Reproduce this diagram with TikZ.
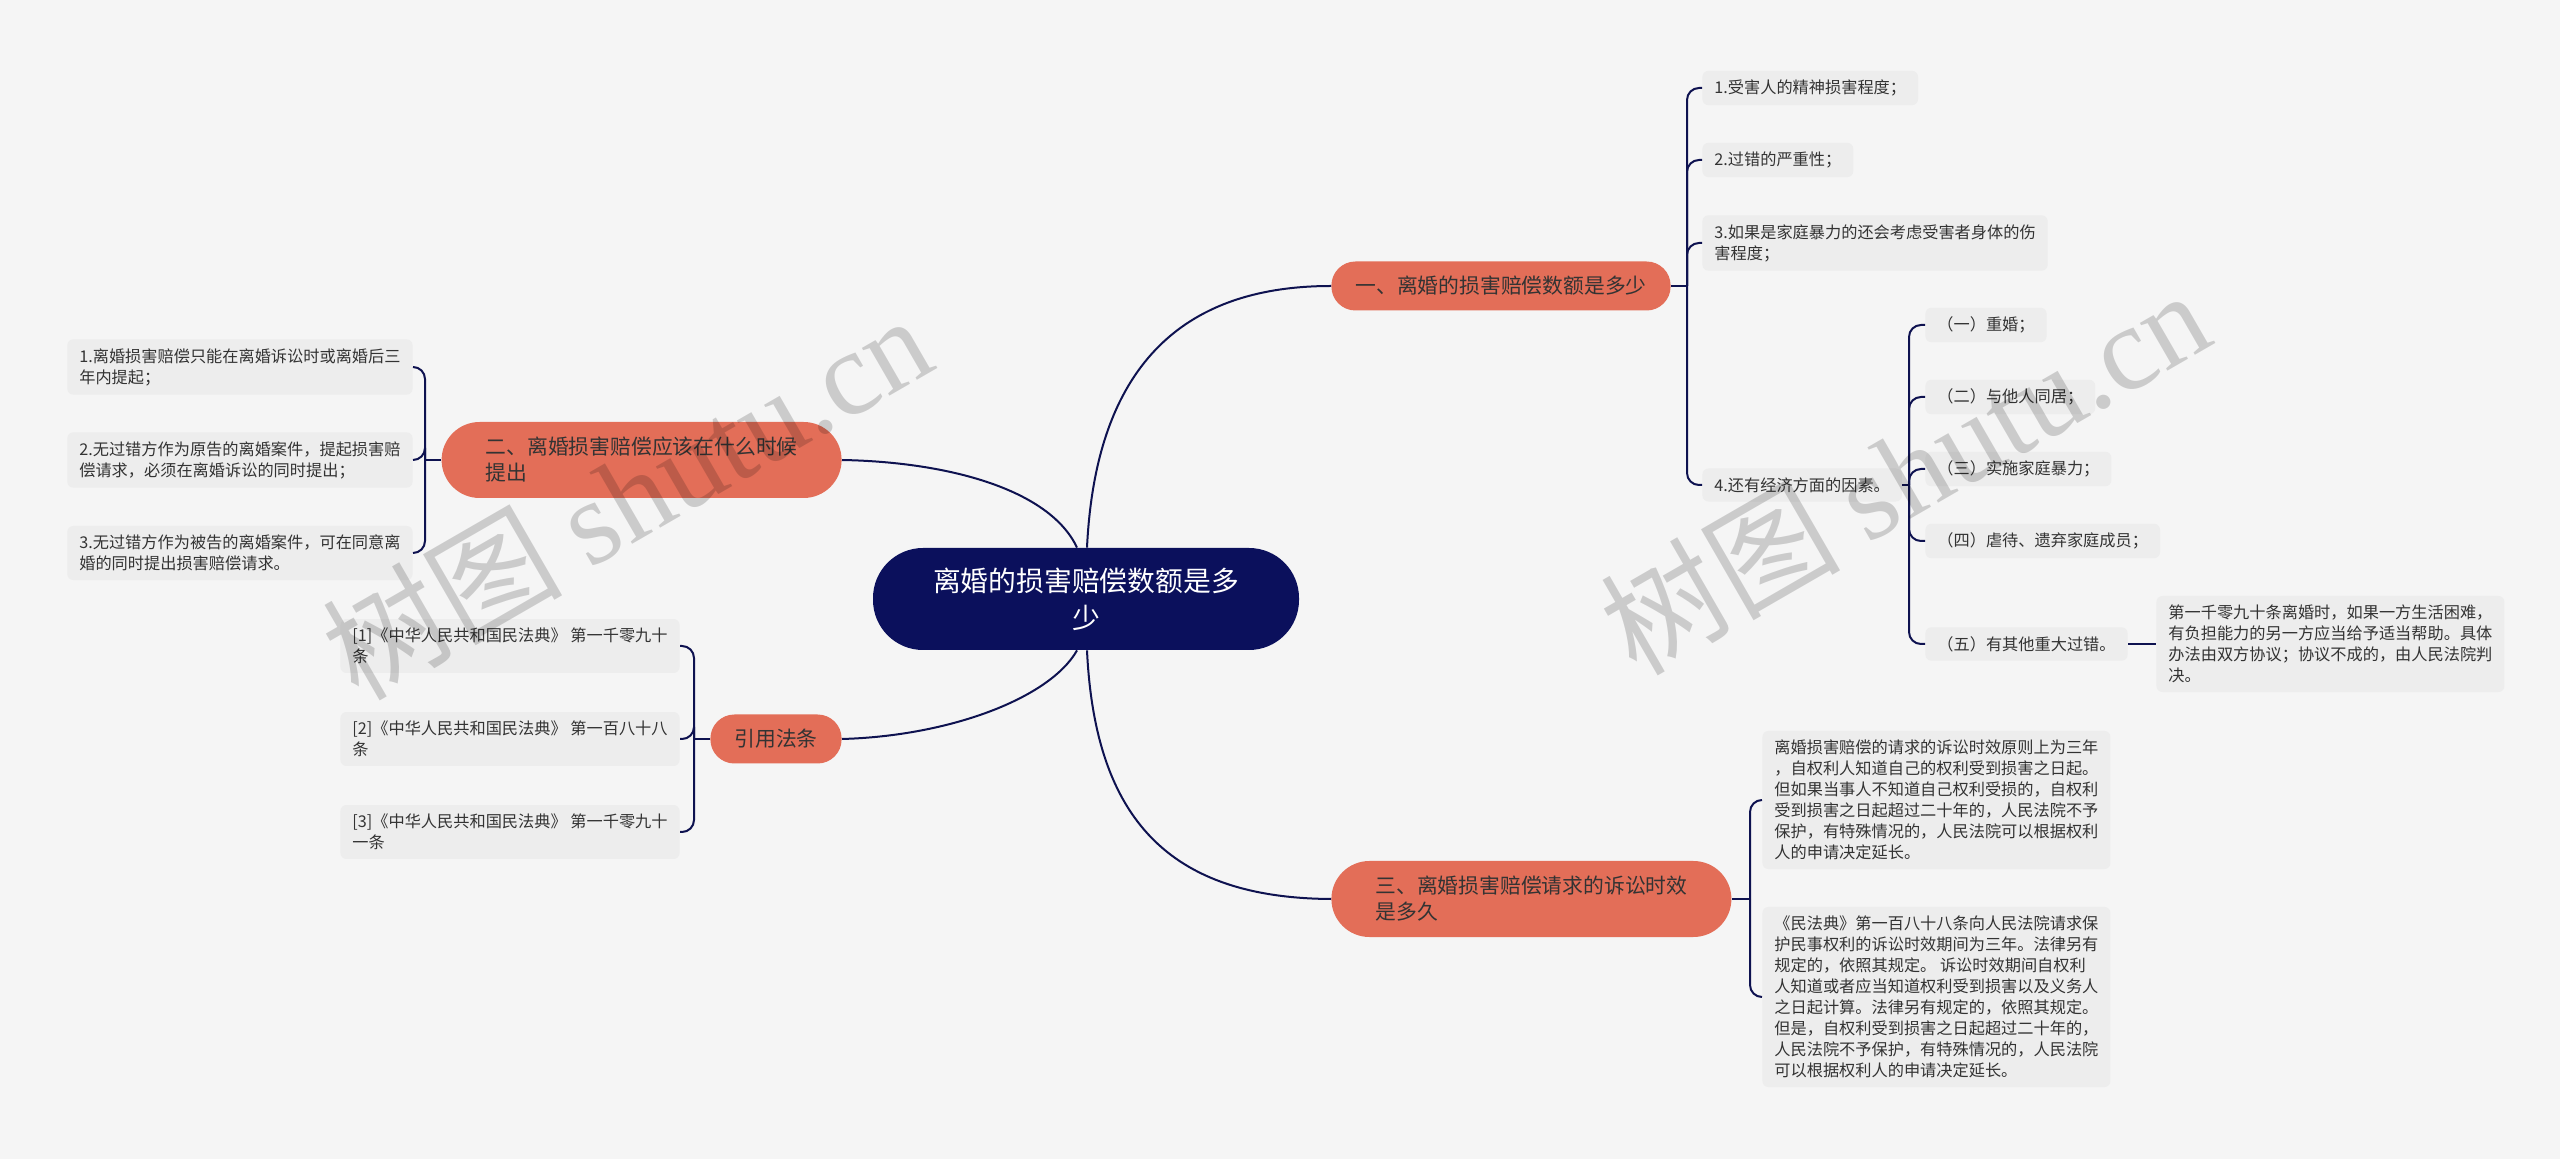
\documentclass[tikz,border=0pt]{standalone}
\usepackage{fontspec}
\setmainfont{Noto Sans CJK SC}
\newfontfamily\wmlatin{Liberation Serif}
\usetikzlibrary{positioning}
\definecolor{mmPaper}{HTML}{F5F5F5}
\definecolor{mmLeaf}{HTML}{EDEDED}
\definecolor{mmNavy}{HTML}{0B105C}
\definecolor{mmCoral}{HTML}{E36E58}
\definecolor{mmInk}{HTML}{333333}
\definecolor{mmLine}{HTML}{0E1250}
\tikzset{
  root/.style={fill=mmNavy, text=white, rounded corners=25pt, minimum width=213pt, minimum height=51pt, align=center, font=\fontsize{13.9}{18.5}\selectfont},
  topic/.style={fill=mmCoral, text=mmInk, rounded corners=12pt, minimum height=24.5pt, inner xsep=12pt, align=left, font=\fontsize{10.4}{13}\selectfont},
  topicW/.style={topic, rounded corners=19pt, minimum height=38pt, inner xsep=22pt},
  leaf/.style={fill=mmLeaf, text=mmInk, rounded corners=3pt, inner xsep=6pt, inner ysep=4.5pt, align=left, font=\fontsize{8.1}{10.5}\selectfont},
  link/.style={draw=mmLine, line width=1pt},
  elbow/.style={link, rounded corners=6pt},
  wm/.style={text=black, text opacity=0.17, rotate=30, anchor=base, font=\fontsize{60}{60}\selectfont},
}
\begin{document}
\begin{tikzpicture}[x=0.5pt, y=-0.5pt]
  \fill[mmPaper] (0,0) rectangle (2560,1159);
  \useasboundingbox (0,0) rectangle (2560,1159);

  % centre and main topics
  \node[root] (root) at (1086,599) {离婚的损害赔偿数额是多\\少};
  \node[topic, anchor=west] (t1) at (1331,286) {一、离婚的损害赔偿数额是多少};
  \node[topicW, anchor=east] (t2) at (842,460) {二、离婚损害赔偿应该在什么时候\\提出};
  \node[topic, anchor=east] (t3) at (842,739) {引用法条};
  \node[topicW, anchor=west] (t4) at (1331,899) {三、离婚损害赔偿请求的诉讼时效\\是多久};

  \draw[link] ([xshift=0.5pt]root.north) .. controls (1095,380) and (1170,286) .. (t1.west);
  \draw[link] ([xshift=-4.5pt]root.north) .. controls (1050,490) and (950,462) .. (t2.east);
  \draw[link] ([xshift=-4.5pt]root.south) .. controls (1050,698) and (950,736) .. (t3.east);
  \draw[link] ([xshift=0.5pt]root.south) .. controls (1095,820) and (1170,898) .. (t4.west);

  % topic 1
  \node[leaf, anchor=west] (t1a) at (1702,88) {1.受害人的精神损害程度；};
  \node[leaf, anchor=west] (t1b) at (1702,160) {2.过错的严重性；};
  \node[leaf, anchor=west] (t1c) at (1702,243) {3.如果是家庭暴力的还会考虑受害者身体的伤\\害程度；};
  \node[leaf, anchor=west] (t1d) at (1702,485) {4.还有经济方面的因素。};
  \coordinate (t1hub) at (1687,286);
  \draw[link] (t1.east) -- (t1hub);
  \foreach \n in {t1a,t1b,t1c,t1d} \draw[elbow] (t1hub) |- (\n.west);

  \node[leaf, anchor=west] (t1d1) at (1925,325) {（一）重婚；};
  \node[leaf, anchor=west] (t1d2) at (1925,397) {（二）与他人同居；};
  \node[leaf, anchor=west] (t1d3) at (1925,469) {（三）实施家庭暴力；};
  \node[leaf, anchor=west] (t1d4) at (1925,541) {（四）虐待、遗弃家庭成员；};
  \node[leaf, anchor=west] (t1d5) at (1925,644) {（五）有其他重大过错。};
  \node[leaf, right=14pt of t1d5] (t1d5a) {第一千零九十条离婚时，如果一方生活困难，\\有负担能力的另一方应当给予适当帮助。具体\\办法由双方协议；协议不成的，由人民法院判\\决。};
  \coordinate (t1dhub) at (1909,485);
  \draw[link] (t1d.east) -- (t1dhub);
  \foreach \n in {t1d1,t1d2,t1d3,t1d4,t1d5} \draw[elbow] (t1dhub) |- (\n.west);
  \draw[link] (t1d5) -- (t1d5a);

  % topic 2
  \node[leaf, anchor=east] (t2a) at (413,367) {1.离婚损害赔偿只能在离婚诉讼时或离婚后三\\年内提起；};
  \node[leaf, anchor=east] (t2b) at (413,460) {2.无过错方作为原告的离婚案件，提起损害赔\\偿请求，必须在离婚诉讼的同时提出；};
  \node[leaf, anchor=east] (t2c) at (413,553) {3.无过错方作为被告的离婚案件，可在同意离\\婚的同时提出损害赔偿请求。};
  \coordinate (t2hub) at (425,460);
  \draw[link] (t2.west) -- (t2hub);
  \foreach \n in {t2a,t2b,t2c} \draw[elbow] (t2hub) |- (\n.east);

  % cited articles
  \node[leaf, anchor=east] (t3a) at (680,646) {[1]《中华人民共和国民法典》 第一千零九十\\条};
  \node[leaf, anchor=east] (t3b) at (680,739) {[2]《中华人民共和国民法典》 第一百八十八\\条};
  \node[leaf, anchor=east] (t3c) at (680,832) {[3]《中华人民共和国民法典》 第一千零九十\\一条};
  \coordinate (t3hub) at (694,739);
  \draw[link] (t3.west) -- (t3hub);
  \foreach \n in {t3a,t3b,t3c} \draw[elbow] (t3hub) |- (\n.east);

  % topic 3
  \node[leaf, anchor=west] (t4a) at (1762,800) {离婚损害赔偿的请求的诉讼时效原则上为三年\\，自权利人知道自己的权利受到损害之日起。\\但如果当事人不知道自己权利受损的，自权利\\受到损害之日起超过二十年的，人民法院不予\\保护，有特殊情况的，人民法院可以根据权利\\人的申请决定延长。};
  \node[leaf, anchor=west] (t4b) at (1762,997) {《民法典》第一百八十八条向人民法院请求保\\护民事权利的诉讼时效期间为三年。法律另有\\规定的，依照其规定。 诉讼时效期间自权利\\人知道或者应当知道权利受到损害以及义务人\\之日起计算。法律另有规定的，依照其规定。\\但是，自权利受到损害之日起超过二十年的，\\人民法院不予保护，有特殊情况的，人民法院\\可以根据权利人的申请决定延长。};
  \coordinate (t4hub) at (1750,899);
  \draw[link] (t4.east) -- (t4hub);
  \foreach \n in {t4a,t4b} \draw[elbow] (t4hub) |- (\n.west);

  % watermark
  \node[wm] (mark1) at (649,535) {树图 {\wmlatin shutu.cn}};
  \node[wm] (mark2) at (1927,510) {树图 {\wmlatin shutu.cn}};
\end{tikzpicture}
\end{document}
